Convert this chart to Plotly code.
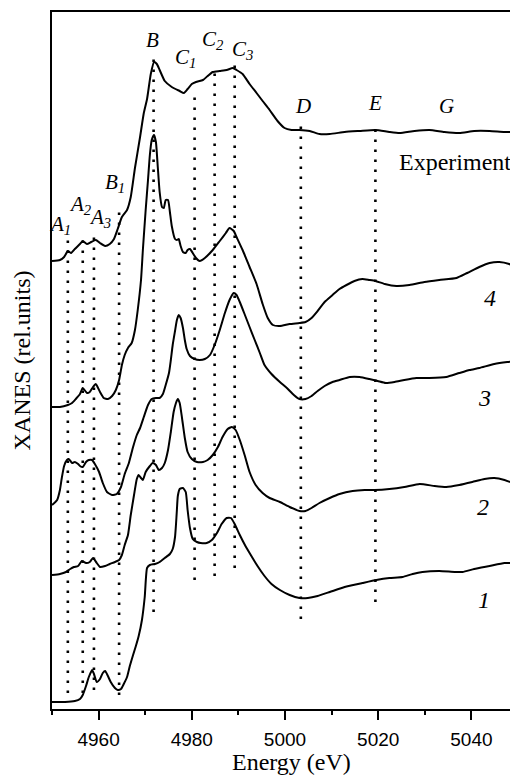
import plotly.graph_objects as go

# ---------------- data (energy in eV, intensity in rel. units) ----------------
exp_e = [4950.0, 4951.7, 4952.6, 4953.4, 4954.1, 4954.9, 4956.0, 4956.6, 4957.5, 4958.4,
         4959.4, 4960.3, 4961.4, 4962.4, 4963.3, 4964.1, 4965.0, 4966.1, 4966.9, 4967.8,
         4968.9, 4969.7, 4970.4, 4971.2, 4971.9, 4972.5, 4973.1, 4974.2, 4975.7, 4977.4,
         4978.3, 4979.1, 4980.0, 4980.9, 4982.4, 4983.4, 4984.5, 4986.0, 4987.5, 4988.8,
         4989.6, 4990.9, 4992.4, 4993.9, 4995.2, 4996.7, 4998.4, 4999.9, 5001.4, 5003.1,
         5005.3, 5007.4, 5009.6, 5012.8, 5016.0, 5019.4, 5022.4, 5024.6, 5027.8, 5031.0,
         5034.2, 5037.4, 5040.6, 5043.9, 5047.1, 5049.9]
exp_v = [4.48, 4.49, 4.52, 4.58, 4.56, 4.60, 4.65, 4.68, 4.65, 4.67,
         4.69, 4.66, 4.63, 4.65, 4.70, 4.80, 4.92, 4.99, 5.12, 5.41,
         5.72, 5.96, 6.10, 6.35, 6.47, 6.45, 6.39, 6.28, 6.22, 6.18,
         6.16, 6.20, 6.25, 6.27, 6.29, 6.33, 6.37, 6.38, 6.39, 6.41,
         6.39, 6.35, 6.25, 6.16, 6.08, 5.99, 5.88, 5.81, 5.79, 5.79,
         5.78, 5.75, 5.75, 5.77, 5.78, 5.79, 5.77, 5.76, 5.78, 5.79,
         5.77, 5.76, 5.78, 5.78, 5.77, 5.77]

c4_e = [4950.0, 4951.7, 4953.4, 4954.3, 4955.1, 4956.0, 4956.6, 4957.5, 4958.1, 4958.8,
        4959.4, 4960.3, 4961.1, 4962.0, 4962.9, 4963.7, 4964.4, 4965.0, 4965.6, 4966.3,
        4967.1, 4967.8, 4968.4, 4969.1, 4969.5, 4970.1, 4970.6, 4971.0, 4971.4, 4971.9,
        4972.3, 4972.7, 4973.1, 4973.6, 4974.0, 4974.4, 4974.9, 4975.3, 4975.7, 4976.4,
        4976.8, 4977.2, 4977.6, 4978.1, 4978.7, 4979.1, 4979.6, 4980.2, 4980.9, 4981.7,
        4982.8, 4984.5, 4986.0, 4987.3, 4988.1, 4989.0, 4989.6, 4990.9, 4992.4, 4993.9,
        4995.2, 4996.3, 4997.4, 4998.9, 5001.0, 5003.1, 5004.4, 5005.7, 5007.0, 5008.5,
        5010.2, 5011.7, 5013.2, 5014.9, 5016.6, 5018.1, 5019.4, 5021.4, 5023.9, 5026.7,
        5029.9, 5033.1, 5036.8, 5039.1, 5041.7, 5043.9, 5046.0, 5048.1, 5049.9]
c4_v = [3.02, 3.02, 3.04, 3.06, 3.10, 3.15, 3.21, 3.16, 3.17, 3.22,
        3.25, 3.17, 3.11, 3.10, 3.13, 3.19, 3.29, 3.44, 3.54, 3.61,
        3.66, 3.79, 3.99, 4.29, 4.59, 4.99, 5.29, 5.54, 5.69, 5.74,
        5.67, 5.42, 5.17, 5.02, 5.01, 5.09, 5.09, 4.97, 4.83, 4.70,
        4.69, 4.70, 4.63, 4.57, 4.56, 4.59, 4.60, 4.56, 4.51, 4.48,
        4.51, 4.59, 4.68, 4.76, 4.81, 4.78, 4.72, 4.59, 4.42, 4.25,
        4.05, 3.91, 3.84, 3.83, 3.85, 3.86, 3.87, 3.91, 3.98, 4.07,
        4.14, 4.20, 4.24, 4.28, 4.30, 4.29, 4.28, 4.25, 4.23, 4.24,
        4.27, 4.29, 4.31, 4.36, 4.42, 4.46, 4.47, 4.45, 4.41]

c3_e = [4950.0, 4951.1, 4951.7, 4952.1, 4952.6, 4953.2, 4953.6, 4954.3, 4954.9, 4955.6,
        4956.0, 4956.6, 4957.3, 4957.9, 4958.6, 4959.2, 4960.1, 4960.9, 4961.8, 4962.9,
        4963.9, 4964.8, 4965.6, 4966.5, 4967.4, 4968.2, 4968.9, 4969.7, 4970.6, 4971.4,
        4972.3, 4973.1, 4973.8, 4974.4, 4975.1, 4975.5, 4975.9, 4976.4, 4976.8, 4977.2,
        4977.6, 4978.1, 4978.5, 4978.9, 4979.6, 4980.6, 4981.7, 4982.8, 4983.9, 4984.9,
        4986.0, 4987.1, 4988.1, 4989.0, 4989.6, 4990.3, 4991.4, 4992.4, 4993.5, 4994.6,
        4995.6, 4997.1, 4998.9, 5000.4, 5001.9, 5003.1, 5004.4, 5005.7, 5007.0, 5008.5,
        5010.2, 5011.7, 5013.9, 5016.0, 5018.1, 5019.9, 5021.6, 5023.5, 5025.6, 5028.2,
        5031.0, 5034.6, 5037.4, 5039.6, 5041.7, 5044.9, 5047.7, 5049.9]
c3_v = [2.04, 2.09, 2.19, 2.31, 2.43, 2.49, 2.50, 2.46, 2.47, 2.45,
        2.43, 2.42, 2.47, 2.49, 2.49, 2.45, 2.37, 2.26, 2.17, 2.14,
        2.15, 2.22, 2.35, 2.46, 2.62, 2.74, 2.81, 2.92, 3.04, 3.10,
        3.11, 3.11, 3.15, 3.24, 3.36, 3.49, 3.64, 3.78, 3.89, 3.94,
        3.91, 3.81, 3.69, 3.60, 3.53, 3.50, 3.49, 3.50, 3.54, 3.64,
        3.79, 3.96, 4.09, 4.16, 4.14, 4.07, 3.94, 3.82, 3.69, 3.56,
        3.44, 3.35, 3.27, 3.21, 3.14, 3.10, 3.10, 3.13, 3.18, 3.23,
        3.27, 3.29, 3.32, 3.32, 3.30, 3.28, 3.26, 3.27, 3.29, 3.31,
        3.31, 3.32, 3.36, 3.39, 3.41, 3.45, 3.47, 3.48]

c2_e = [4950.0, 4951.7, 4953.0, 4953.9, 4954.7, 4955.6, 4956.4, 4957.3, 4958.1, 4958.8,
        4959.6, 4960.3, 4961.4, 4962.4, 4963.5, 4964.4, 4965.0, 4965.6, 4966.3, 4966.9,
        4967.6, 4968.2, 4968.6, 4969.1, 4969.5, 4970.1, 4971.0, 4971.6, 4972.3, 4972.9,
        4973.6, 4974.2, 4974.9, 4975.5, 4976.1, 4976.6, 4977.0, 4977.4, 4977.9, 4978.5,
        4979.1, 4980.0, 4981.1, 4982.4, 4983.4, 4984.5, 4985.6, 4986.6, 4987.7, 4988.6,
        4989.4, 4990.3, 4991.4, 4992.4, 4993.7, 4995.2, 4996.7, 4998.9, 5001.0, 5003.1,
        5004.4, 5005.7, 5007.4, 5009.6, 5011.7, 5014.5, 5017.1, 5019.2, 5022.4, 5025.6,
        5028.9, 5032.1, 5034.6, 5037.4, 5040.2, 5042.8, 5044.9, 5047.1, 5049.9]
c2_v = [1.34, 1.35, 1.37, 1.40, 1.42, 1.43, 1.48, 1.46, 1.47, 1.51,
        1.46, 1.42, 1.43, 1.45, 1.47, 1.49, 1.54, 1.64, 1.74, 1.94,
        2.14, 2.30, 2.34, 2.31, 2.29, 2.37, 2.43, 2.46, 2.44, 2.39,
        2.41, 2.46, 2.59, 2.77, 2.97, 3.06, 3.10, 3.06, 2.91, 2.71,
        2.57, 2.50, 2.47, 2.47, 2.49, 2.54, 2.62, 2.72, 2.80, 2.82,
        2.79, 2.69, 2.53, 2.37, 2.24, 2.16, 2.11, 2.07, 2.02, 1.98,
        1.98, 2.01, 2.06, 2.11, 2.15, 2.18, 2.19, 2.19, 2.20, 2.22,
        2.25, 2.23, 2.22, 2.24, 2.27, 2.30, 2.31, 2.29, 2.24]

c1_e = [4950.0, 4952.8, 4954.9, 4956.0, 4956.6, 4957.3, 4957.9, 4958.6, 4959.0, 4959.6,
        4960.3, 4960.9, 4961.4, 4962.0, 4962.6, 4963.5, 4964.1, 4964.8, 4965.4, 4966.1,
        4966.7, 4967.4, 4968.0, 4968.6, 4969.3, 4969.9, 4970.4, 4971.0, 4972.1, 4973.1,
        4974.2, 4975.3, 4975.9, 4976.4, 4976.6, 4976.8, 4977.0, 4977.4, 4978.1, 4978.7,
        4979.1, 4979.6, 4980.2, 4981.1, 4981.9, 4983.2, 4984.3, 4985.4, 4986.4, 4987.5,
        4988.4, 4989.2, 4990.3, 4991.4, 4992.4, 4994.1, 4995.6, 4997.1, 4998.9, 5001.0,
        5003.1, 5004.9, 5007.0, 5009.6, 5012.8, 5016.6, 5019.6, 5022.4, 5025.2, 5027.4,
        5029.5, 5033.1, 5036.4, 5038.1, 5040.6, 5043.9, 5047.1, 5049.9]
c1_v = [0.07, 0.07, 0.08, 0.10, 0.14, 0.23, 0.32, 0.39, 0.35, 0.27,
        0.30, 0.36, 0.38, 0.33, 0.27, 0.21, 0.19, 0.20, 0.25, 0.32,
        0.43, 0.54, 0.63, 0.73, 0.89, 1.12, 1.41, 1.44, 1.45, 1.47,
        1.51, 1.55, 1.60, 1.72, 1.84, 1.99, 2.13, 2.20, 2.21, 2.17,
        1.99, 1.81, 1.70, 1.67, 1.66, 1.66, 1.69, 1.76, 1.85, 1.91,
        1.91, 1.85, 1.74, 1.64, 1.56, 1.43, 1.33, 1.25, 1.19, 1.14,
        1.11, 1.11, 1.13, 1.17, 1.22, 1.26, 1.29, 1.31, 1.32, 1.35,
        1.37, 1.38, 1.37, 1.37, 1.40, 1.43, 1.46, 1.46]

# feature markers (dotted verticals)
feat_names = ["A1", "A2", "A3", "B1", "B", "C1", "C2", "C3", "D", "E"]
feat_e = [4953.4, 4956.6, 4959.0, 4964.4, 4971.8, 4980.6, 4984.9, 4989.2, 5003.4, 5019.4]
feat_top = [4.74, 4.76, 4.76, 5.02, 6.56, 6.19, 6.39, 6.47, 5.87, 5.86]
feat_bottom = [0.16, 0.16, 0.19, 0.14, 0.97, 1.29, 1.33, 1.41, 0.90, 1.07]

x_ticks = [4960, 4980, 5000, 5020, 5040]
x_range = [4950, 5050]
y_range = [0, 6.97]

# ---------------- figure ----------------
fig = go.Figure()

for e, t, b in zip(feat_e, feat_top, feat_bottom):
    fig.add_trace(go.Scatter(x=[e, e], y=[b, t], mode="lines",
                             line=dict(color="black", width=2.6, dash="2.6px,7.4px"),
                             hoverinfo="skip", showlegend=False))

for xs, ys in [(exp_e, exp_v), (c4_e, c4_v), (c3_e, c3_v), (c2_e, c2_v), (c1_e, c1_v)]:
    fig.add_trace(go.Scatter(x=xs, y=ys, mode="lines",
                             line=dict(color="black", width=2, shape="spline", smoothing=0.5),
                             showlegend=False))

serif = "Liberation Serif"
ann = []
letter_pos = [
    ("<i>A<sub>1</sub></i>", 4951.8, 4.84),
    ("<i>A<sub>2</sub></i>", 4956.2, 5.04),
    ("<i>A<sub>3</sub></i>", 4960.4, 4.91),
    ("<i>B<sub>1</sub></i>", 4963.6, 5.26),
    ("<i>B</i>", 4971.6, 6.69),
    ("<i>C<sub>1</sub></i>", 4978.6, 6.51),
    ("<i>C<sub>2</sub></i>", 4984.6, 6.69),
    ("<i>C<sub>3</sub></i>", 4990.8, 6.59),
    ("<i>D</i>", 5003.8, 6.03),
    ("<i>E</i>", 5019.4, 6.06),
    ("<i>G</i>", 5034.6, 6.03),
]
for txt, x, y in letter_pos:
    ann.append(dict(text=txt, x=x, y=y, xref="x", yref="y", showarrow=False,
                    xanchor="center", yanchor="middle",
                    font=dict(family=serif, size=21, color="black")))

curve_labels = [("Experiment", 5036.4, 5.47), ("<i>4</i>", 5043.9, 4.11),
                ("<i>3</i>", 5042.8, 3.11), ("<i>2</i>", 5042.4, 2.02),
                ("<i>1</i>", 5042.8, 1.09)]
for txt, x, y in curve_labels:
    ann.append(dict(text=txt, x=x, y=y, xref="x", yref="y", showarrow=False,
                    xanchor="center", yanchor="middle",
                    font=dict(family=serif, size=24, color="black")))

ann.append(dict(text="Energy (eV)", x=0.513, y=-0.0765, xref="paper", yref="paper",
                showarrow=False, xanchor="center", yanchor="middle",
                font=dict(family=serif, size=24, color="black")))
ann.append(dict(text="XANES (rel.units)", x=-0.0644, y=0.5, xref="paper", yref="paper",
                showarrow=False, xanchor="center", yanchor="middle", textangle=-90,
                font=dict(family=serif, size=24, color="black")))

# page body has an 8px margin: figure is sized so the plot area lands where the reference has it
fig.update_layout(
    width=510, height=773,
    margin=dict(l=44, r=0, t=4, b=72),
    paper_bgcolor="white", plot_bgcolor="white",
    annotations=ann,
    xaxis=dict(range=x_range, showgrid=False, zeroline=False,
               showline=True, linecolor="black", linewidth=2, mirror=True,
               ticks="outside", ticklen=9, tickwidth=1.5, tickcolor="black",
               tickvals=x_ticks, ticklabelstandoff=3,
               tickfont=dict(family="Liberation Sans", size=19, color="black"),
               minor=dict(ticks="outside", ticklen=4, tickwidth=1.5, tickcolor="black",
                          dtick=10, tick0=4950, showgrid=False)),
    yaxis=dict(range=y_range, showgrid=False, zeroline=False, showticklabels=False,
               showline=True, linecolor="black", linewidth=2, ticks=""),
)

fig.write_html("out.html")
